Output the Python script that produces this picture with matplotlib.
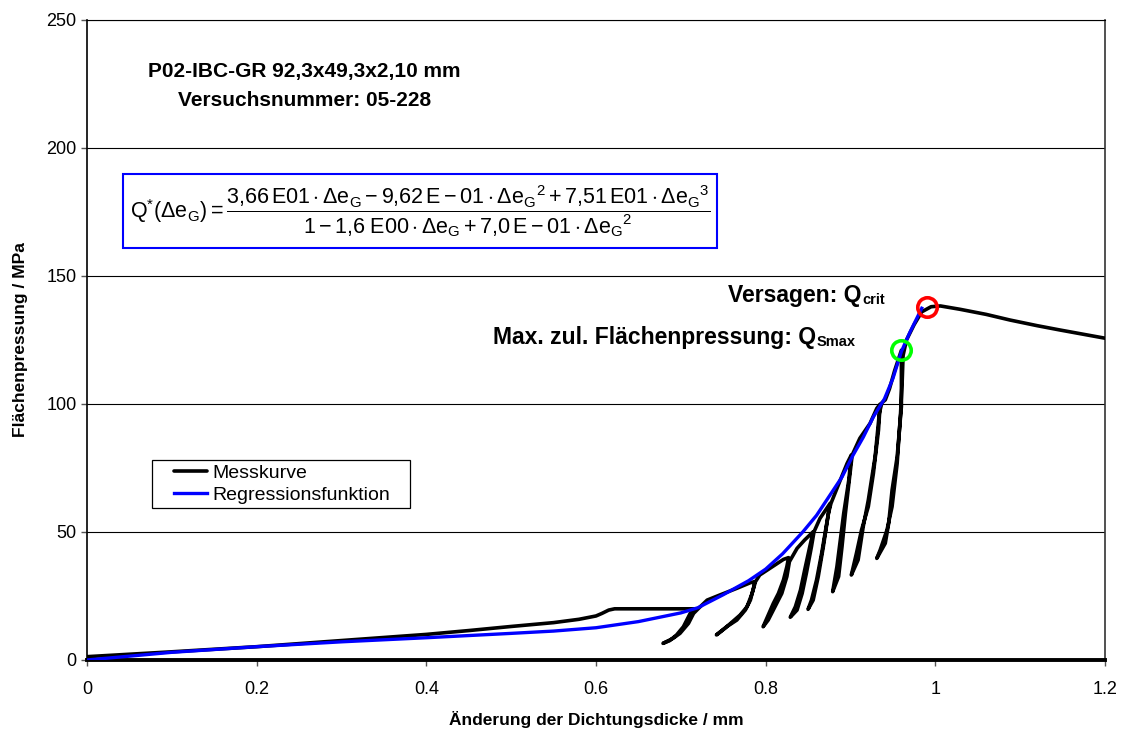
import matplotlib
matplotlib.use("Agg")
import matplotlib.pyplot as plt
from matplotlib.patches import Rectangle
from matplotlib.legend_handler import HandlerLine2D

plt.rcParams['font.family'] = ['Liberation Sans', 'DejaVu Sans']
plt.rcParams['mathtext.fontset'] = 'custom'
plt.rcParams['mathtext.rm'] = 'Liberation Sans'
plt.rcParams['mathtext.it'] = 'Liberation Sans'
plt.rcParams['mathtext.bf'] = 'Liberation Sans:bold'

# ---- data ----
mess_x = [0.000, 0.100, 0.200, 0.300, 0.400, 0.450, 0.500, 0.550, 0.580, 0.600, 0.607, 0.615, 0.622, 0.680, 0.717,
          # cycle 1 (20 MPa)
          0.711, 0.703, 0.695, 0.687, 0.679, 0.691, 0.699, 0.709, 0.715, 0.721,
          0.731, 0.746, 0.766, 0.782, 0.787,
          # cycle 2 (30 MPa)
          0.786, 0.782, 0.776, 0.766, 0.754, 0.742, 0.752, 0.770, 0.778, 0.784, 0.788,
          0.793, 0.809, 0.821, 0.827,
          # cycle 3 (40 MPa)
          0.825, 0.821, 0.815, 0.809, 0.803, 0.797, 0.803, 0.811, 0.819, 0.825, 0.828,
          0.837, 0.846, 0.856,
          # cycle 4 (50 MPa)
          0.852, 0.846, 0.841, 0.835, 0.829, 0.837, 0.843, 0.848, 0.854, 0.857,
          0.864, 0.876,
          # cycle 5 (60 MPa)
          0.872, 0.866, 0.860, 0.854, 0.850, 0.856, 0.862, 0.868, 0.874, 0.877,
          0.888, 0.896, 0.901,
          # cycle 6 (80 MPa)
          0.898, 0.892, 0.888, 0.884, 0.879, 0.886, 0.890, 0.894, 0.899, 0.902,
          0.911, 0.923, 0.931, 0.935,
          # cycle 7 (100 MPa)
          0.933, 0.927, 0.921, 0.913, 0.907, 0.901, 0.909, 0.915, 0.921, 0.929, 0.934, 0.937,
          0.941, 0.946, 0.952, 0.958, 0.960,
          # cycle 8 (120 MPa)
          0.960, 0.960, 0.955, 0.949, 0.945, 0.941, 0.931, 0.935, 0.943, 0.949, 0.955, 0.959, 0.961, 0.962,
          # final loading and failure
          0.966, 0.975, 0.984, 0.995, 1.006, 1.029, 1.060, 1.088, 1.120, 1.147, 1.175, 1.200]
mess_y = [1.3, 3.2, 5.2, 7.6, 10.0, 11.5, 13.1, 14.6, 15.9, 17.2, 18.2, 19.5, 20.0, 20.0, 20.0,
          18.2, 13.0, 9.8, 7.6, 6.5, 8.5, 10.4, 14.3, 18.2, 20.2,
          23.4, 25.4, 28.0, 30.2, 30.6,
          28.6, 23.4, 19.5, 15.6, 13.0, 9.8, 12.4, 17.6, 20.8, 26.0, 30.6,
          33.2, 36.7, 39.3, 40.0,
          36.5, 31.3, 26.0, 22.1, 17.6, 13.0, 15.6, 20.8, 26.0, 32.6, 38.4,
          43.6, 46.9, 50.1,
          44.3, 35.2, 27.3, 20.8, 16.7, 19.5, 26.0, 33.9, 44.3, 50.1,
          55.3, 61.2,
          53.4, 41.7, 31.3, 23.4, 19.8, 23.4, 32.6, 44.3, 57.3, 61.2,
          70.3, 76.8, 80.1,
          70.3, 57.3, 46.9, 36.5, 26.7, 32.6, 44.3, 57.3, 71.6, 80.1,
          86.6, 92.4, 98.3, 100.0,
          89.8, 72.9, 59.9, 50.8, 41.7, 33.2, 39.1, 52.1, 62.5, 79.4, 96.4, 100.5,
          101.6, 106.0, 113.0, 119.0, 121.0,
          109.4, 99.0, 79.4, 66.4, 53.4, 45.6, 39.7, 43.0, 50.8, 59.9, 76.8, 96.4, 109.4, 119.0,
          125.0, 131.0, 136.0, 138.0, 138.3, 137.0, 135.0, 132.8, 130.6, 128.9, 127.2, 125.7]

reg_x = [0.00, 0.10, 0.20, 0.30, 0.40, 0.50, 0.55, 0.60, 0.65, 0.70, 0.72, 0.75, 0.78, 0.80, 0.82,
         0.844, 0.86, 0.876, 0.89, 0.903, 0.915, 0.927, 0.94, 0.95, 0.96, 0.97, 0.984]
reg_y = [0.0, 3.0, 5.2, 7.1, 8.7, 10.4, 11.3, 12.6, 15.0, 18.4, 20.4, 25.5, 31.0, 35.5, 41.5,
         50.1, 56.5, 64.5, 71.5, 80.0, 87.0, 95.0, 102.0, 110.0, 120.5, 128.0, 137.4]

smax_x, smax_y = [0.960], [121.1]
crit_x, crit_y = [0.990], [137.8]

x_ticks = [0, 0.2, 0.4, 0.6, 0.8, 1.0, 1.2]
x_tick_labels = ['0', '0.2', '0.4', '0.6', '0.8', '1', '1.2']
y_ticks = [0, 50, 100, 150, 200, 250]

# ---- figure ----
fig = plt.figure(figsize=(11.23, 7.36), dpi=100)
ax = fig.add_axes([87/1123, 76/736, 1018/1123, 640/736])

ax.set_xlim(0, 1.2)
ax.set_ylim(0, 250)
ax.set_xticks(x_ticks)
ax.set_xticklabels(x_tick_labels)
ax.set_yticks(y_ticks)
ax.tick_params(axis='both', labelsize=13, length=4.5, width=1, color='#555555')
ax.tick_params(axis='x', pad=10.5)
ax.tick_params(axis='y', pad=3)

for yv in [50, 100, 150, 200, 250]:
    ax.axhline(yv, color='black', lw=0.8, zorder=0)

ax.spines['bottom'].set_linewidth(2.8)
ax.spines['left'].set_linewidth(1.2)
ax.spines['right'].set_linewidth(1.2)
ax.spines['right'].set_color('#333333')
ax.spines['top'].set_linewidth(0.8)

ax.plot(mess_x, mess_y, color='black', lw=2.6, solid_joinstyle='round',
        solid_capstyle='round', label='Messkurve', zorder=3)
ax.plot(reg_x, reg_y, color='#0000ff', lw=2.4, label='Regressionsfunktion', zorder=4)

ax.plot(smax_x, smax_y, 'o', mfc='none', mec='#00ff00', ms=14, mew=2.6, zorder=5)
ax.plot(crit_x, crit_y, 'o', mfc='none', mec='#ff0000', ms=14, mew=2.6, zorder=5)

leg = ax.legend(loc='upper left', bbox_to_anchor=(0.064, 0.222, 0.253, 0.0905), mode='expand',
                fontsize=14, frameon=True, fancybox=False, edgecolor='black', framealpha=1,
                handlelength=2.6, handletextpad=0.3, borderpad=0.2, labelspacing=0.25,
                borderaxespad=0, handler_map={matplotlib.lines.Line2D: HandlerLine2D(xpad=0.9)})
leg.get_frame().set_linewidth(0.9)

ax.text(0.256, 229.7, 'P02-IBC-GR 92,3x49,3x2,10 mm', ha='center', va='center',
        fontsize=15, fontweight='bold')
ax.text(0.256, 218.75, 'Versuchsnummer: 05-228', ha='center', va='center',
        fontsize=15, fontweight='bold')

t1 = ax.text(0.7556, 140.0, 'Versagen: Q', ha='left', va='baseline',
             fontsize=16.5, fontweight='bold')
ax.annotate('crit', xy=(1, 0), xycoords=t1, xytext=(0.5, 2.0), textcoords='offset points',
            ha='left', va='baseline', fontsize=10.5, fontweight='bold')
t2 = ax.text(0.4786, 123.4, 'Max. zul. Flächenpressung: Q', ha='left', va='baseline',
             fontsize=16.5, fontweight='bold')
ax.annotate('Smax', xy=(1, 0), xycoords=t2, xytext=(0.5, 2.0), textcoords='offset points',
            ha='left', va='baseline', fontsize=10.5, fontweight='bold')

ax.add_patch(Rectangle((0.0354, 0.644), 0.5835, 0.115, transform=ax.transAxes,
                       fill=True, facecolor='white', edgecolor='#0000ff', lw=1.5, zorder=6))
formula = (r'$\mathrm{Q^{*}(\Delta e_{G}) = '
           r'\dfrac{3{,}66\,E01\cdot \Delta e_{G} - 9{,}62\,E-01\cdot \Delta e_{G}{}^{2} + 7{,}51\,E01\cdot \Delta e_{G}{}^{3}}'
           r'{1 - 1{,}6\;E00\cdot \Delta e_{G} + 7{,}0\,E-01\cdot \Delta e_{G}{}^{2}}}$')
ax.text(0.0354 + 0.5835/2, 0.644 + 0.115/2, formula, transform=ax.transAxes,
        ha='center', va='center', fontsize=15.5, zorder=7)

ax.set_xlabel('Änderung der Dichtungsdicke / mm', fontsize=12.5, fontweight='bold')
ax.xaxis.set_label_coords(0.5, -0.0797)
ax.set_ylabel('Flächenpressung / MPa', fontsize=12.5, fontweight='bold')
ax.yaxis.set_label_coords(-0.058, 0.5)

fig.savefig('out.png', dpi=100)
